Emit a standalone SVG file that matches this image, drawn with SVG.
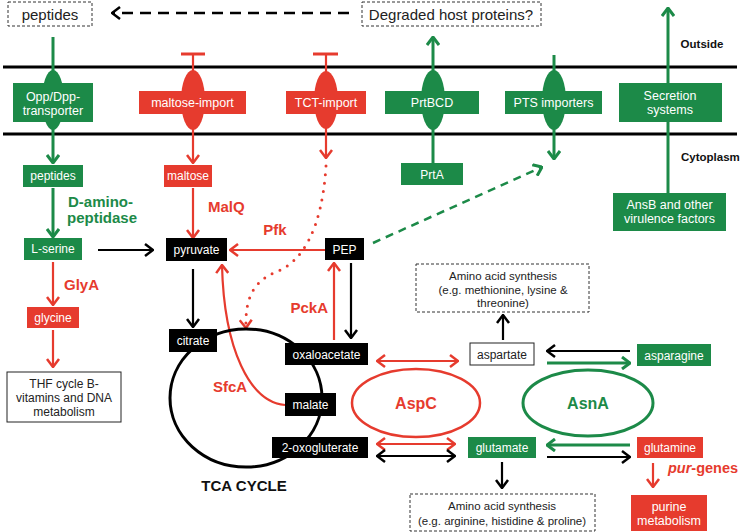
<svg xmlns="http://www.w3.org/2000/svg" width="741" height="532" viewBox="0 0 741 532">
<style>
text{font-family:"Liberation Sans",Arial,sans-serif}
.w{fill:#fff;font-size:12px;text-anchor:middle}
.wm{fill:#fff;font-size:12.5px;text-anchor:middle}
.k{fill:#222;font-size:12px;text-anchor:middle}
.ks{fill:#222;font-size:11.5px;text-anchor:middle}
.rl{fill:#e63b2e;font-size:15px;font-weight:bold}
.gl{fill:#1c8a48;font-size:15px;font-weight:bold}
.G{fill:#1c8a48}
.R{fill:#e63b2e}
.B{fill:#000}
.dash{fill:#fff;stroke:#333;stroke-width:1;stroke-dasharray:3 2}
.sg{stroke:#1c8a48;stroke-width:3;fill:none}
.sr{stroke:#e63b2e;stroke-width:2.2;fill:none}
.sk{stroke:#000;stroke-width:2.2;fill:none}
</style>
<defs>
<marker id="ar" viewBox="0 0 10 14" markerWidth="10" markerHeight="14" refX="9" refY="7" orient="auto-start-reverse" markerUnits="userSpaceOnUse"><path d="M1,1 L9,7 L1,13" fill="none" stroke="#e63b2e" stroke-width="2.5"/></marker>
<marker id="ag" viewBox="0 0 10 14" markerWidth="10" markerHeight="14" refX="9" refY="7" orient="auto-start-reverse" markerUnits="userSpaceOnUse"><path d="M1,1 L9,7 L1,13" fill="none" stroke="#1c8a48" stroke-width="3"/></marker>
<marker id="ak" viewBox="0 0 10 14" markerWidth="10" markerHeight="14" refX="9" refY="7" orient="auto-start-reverse" markerUnits="userSpaceOnUse"><path d="M1,1 L9,7 L1,13" fill="none" stroke="#000" stroke-width="2.5"/></marker>
</defs>
<rect width="741" height="532" fill="#fff"/>
<!-- membranes -->
<g id="membrane">
<line x1="3" y1="67" x2="737" y2="67" stroke="#000" stroke-width="3"/>
<line x1="3" y1="134" x2="737" y2="134" stroke="#000" stroke-width="3"/>
<text x="702" y="48" style="font-size:11.5px;font-weight:bold;text-anchor:middle" fill="#111">Outside</text>
<text x="681" y="161" style="font-size:11.5px;font-weight:bold" fill="#111">Cytoplasm</text>
</g>
<!-- connectors -->
<g id="connectors">
<line x1="349" y1="13" x2="112" y2="13" stroke="#000" stroke-width="2.5" stroke-dasharray="11 7" marker-end="url(#ak)"/>
<line class="sg" x1="53" y1="37" x2="53" y2="163" marker-end="url(#ag)"/>
<line class="sr" x1="193" y1="54" x2="193" y2="163" marker-end="url(#ar)"/>
<line x1="181" y1="54" x2="205" y2="54" stroke="#e63b2e" stroke-width="3"/>
<line class="sr" x1="326" y1="54" x2="326" y2="158" marker-end="url(#ar)"/>
<line x1="313" y1="54" x2="338" y2="54" stroke="#e63b2e" stroke-width="3"/>
<line class="sg" x1="433" y1="163" x2="433" y2="37" marker-end="url(#ag)"/>
<line class="sg" x1="554" y1="55" x2="554" y2="159" marker-end="url(#ag)"/>
<line class="sg" x1="668" y1="193" x2="668" y2="8" marker-end="url(#ag)"/>
<path d="M326,166 C 322,230 302,262 276,272 C 252,282 245,300 246,328" fill="none" stroke="#e63b2e" stroke-width="3" stroke-linecap="round" stroke-dasharray="0 8.5" marker-end="url(#ar)"/>
<line x1="373" y1="243" x2="542" y2="167" stroke="#1c8a48" stroke-width="2.5" stroke-dasharray="8 6" marker-end="url(#ag)"/>
<line class="sg" x1="53" y1="188" x2="53" y2="237" marker-end="url(#ag)"/>
<line class="sr" x1="193" y1="188" x2="193" y2="238" marker-end="url(#ar)"/>
<line class="sk" x1="98" y1="250" x2="153" y2="250" marker-end="url(#ak)"/>
<line class="sr" x1="53" y1="262" x2="53" y2="305" marker-end="url(#ar)"/>
<line class="sr" x1="53" y1="330" x2="53" y2="367" marker-end="url(#ar)"/>
<line class="sr" x1="325" y1="250" x2="230" y2="250" marker-end="url(#ar)"/>
<line class="sk" x1="193" y1="269" x2="193" y2="327" marker-end="url(#ak)"/>
<line class="sr" x1="334" y1="340" x2="334" y2="263" marker-end="url(#ar)"/>
<line class="sk" x1="351" y1="263" x2="351" y2="338" marker-end="url(#ak)"/>
<path class="sr" d="M285,405 C 250,402 224,350 222,265" marker-end="url(#ar)"/>
<line class="sr" x1="377" y1="361" x2="458" y2="361" marker-start="url(#ar)" marker-end="url(#ar)"/>
<line class="sr" x1="377" y1="444" x2="455" y2="444" marker-start="url(#ar)" marker-end="url(#ar)"/>
<line class="sk" x1="377" y1="456" x2="455" y2="456" marker-start="url(#ak)" marker-end="url(#ak)"/>
<line class="sk" x1="503" y1="340" x2="503" y2="315" marker-end="url(#ak)"/>
<line class="sk" x1="630" y1="351" x2="547" y2="351" marker-end="url(#ak)"/>
<line class="sg" x1="547" y1="363" x2="630" y2="363" marker-end="url(#ag)"/>
<line class="sg" x1="630" y1="445" x2="547" y2="445" marker-end="url(#ag)"/>
<line class="sk" x1="547" y1="457" x2="630" y2="457" marker-end="url(#ak)"/>
<line class="sk" x1="502" y1="462" x2="502" y2="488" marker-end="url(#ak)"/>
<line class="sr" x1="653" y1="463" x2="653" y2="487" marker-end="url(#ar)"/>
</g>
<!-- TCA cycle -->
<g id="tca">
<ellipse cx="246" cy="398" rx="76" ry="69" fill="none" stroke="#000" stroke-width="3"/>
<text x="244" y="491" style="font-size:15px;font-weight:bold;text-anchor:middle" fill="#111">TCA CYCLE</text>
</g>
<g id="aspc"><ellipse cx="416" cy="403" rx="64" ry="34" fill="none" stroke="#e63b2e" stroke-width="2.5"/><text class="rl" x="416" y="409" style="font-size:16px;text-anchor:middle">AspC</text></g>
<g id="asna"><ellipse cx="588" cy="403" rx="65" ry="33" fill="none" stroke="#1c8a48" stroke-width="3"/><text class="gl" x="588" y="409" style="font-size:16px;text-anchor:middle">AsnA</text></g>
<!-- top boxes -->
<g id="peptides-out"><rect class="dash" x="8" y="2" width="84" height="24"/><text x="50" y="19.5" style="font-size:15px;text-anchor:middle" fill="#222">peptides</text></g>
<g id="degraded"><rect class="dash" x="362" y="2" width="179" height="24"/><text x="451" y="19.5" style="font-size:15px;text-anchor:middle" fill="#222">Degraded host proteins?</text></g>
<!-- membrane transporters -->
<g id="opp"><ellipse class="G" cx="53" cy="100" rx="11" ry="30"/><rect class="G" x="13" y="83" width="80" height="39"/><text class="wm" x="53" y="101">Opp/Dpp-</text><text class="wm" x="53" y="115">transporter</text></g>
<g id="maltose-import"><ellipse class="R" cx="193" cy="100" rx="12" ry="30"/><rect class="R" x="139" y="91" width="107" height="23"/><text class="wm" x="192.5" y="107">maltose-import</text></g>
<g id="tct-import"><ellipse class="R" cx="326" cy="100" rx="12" ry="29"/><rect class="R" x="286" y="91" width="80" height="23"/><text class="wm" x="326" y="107">TCT-import</text></g>
<g id="prtbcd"><ellipse class="G" cx="433" cy="100" rx="12" ry="30"/><rect class="G" x="385" y="91" width="94" height="23"/><text class="wm" x="432" y="107">PrtBCD</text></g>
<g id="pts"><ellipse class="G" cx="554" cy="100" rx="12" ry="30"/><rect class="G" x="505" y="91" width="97" height="23"/><text class="wm" x="553.5" y="107">PTS importers</text></g>
<g id="secretion"><rect class="G" x="619" y="83" width="103" height="39"/><text class="wm" x="670" y="100">Secretion</text><text class="wm" x="670" y="114">systems</text></g>
<!-- cytoplasm nodes -->
<g id="peptides-in"><rect class="G" x="23" y="165" width="60" height="22"/><text class="w" x="53" y="180">peptides</text></g>
<g id="maltose"><rect class="R" x="164" y="165" width="48" height="22"/><text class="w" x="188" y="180">maltose</text></g>
<g id="prta"><rect class="G" x="401" y="163" width="62" height="22"/><text class="w" x="432" y="178.5">PrtA</text></g>
<g id="ansb"><rect class="G" x="613" y="193" width="113" height="38"/><text class="wm" x="669.5" y="209">AnsB and other</text><text class="wm" x="669.5" y="223">virulence factors</text></g>
<g id="lserine"><rect class="G" x="24" y="238" width="58" height="22"/><text class="w" x="53" y="253">L-serine</text></g>
<g id="glycine"><rect class="R" x="27" y="307" width="52" height="21"/><text class="w" x="53" y="322">glycine</text></g>
<g id="thf"><rect x="7" y="372" width="114" height="50" fill="#fff" stroke="#222" stroke-width="1"/><text class="k" x="64" y="388">THF cycle B-</text><text class="k" x="64" y="402">vitamins and DNA</text><text class="k" x="64" y="415.5">metabolism</text></g>
<g id="pyruvate"><rect class="B" x="166" y="238" width="61" height="23"/><text class="w" x="196.5" y="254">pyruvate</text></g>
<g id="pep"><rect class="B" x="325" y="238" width="39" height="22"/><text class="w" x="344.5" y="253.5">PEP</text></g>
<g id="citrate"><rect class="B" x="169" y="329" width="48" height="23"/><text class="w" x="193" y="345">citrate</text></g>
<g id="oxaloacetate"><rect class="B" x="285" y="343" width="83" height="22"/><text class="w" x="326.5" y="358.5">oxaloacetate</text></g>
<g id="malate"><rect class="B" x="285" y="393" width="51" height="23"/><text class="w" x="310.5" y="409">malate</text></g>
<g id="oxoglutarate"><rect class="B" x="272" y="437" width="96" height="21"/><text class="w" x="320" y="452">2-oxogluterate</text></g>
<g id="aspartate"><rect x="470" y="343" width="64" height="22" fill="#fff" stroke="#222" stroke-width="1"/><text class="k" x="502" y="358.5">aspartate</text></g>
<g id="asparagine"><rect class="G" x="637" y="344" width="74" height="22"/><text class="w" x="674" y="359.5">asparagine</text></g>
<g id="glutamate"><rect class="G" x="468" y="437" width="68" height="21"/><text class="w" x="502" y="452">glutamate</text></g>
<g id="glutamine"><rect class="R" x="637" y="437" width="66" height="21"/><text class="w" x="670" y="452">glutamine</text></g>
<g id="purine"><rect class="R" x="631" y="495" width="76" height="36"/><text class="wm" x="669" y="511">purine</text><text class="wm" x="669" y="525">metabolism</text></g>
<g id="aa1"><rect class="dash" x="416" y="264" width="173" height="48"/><text class="ks" x="503" y="280">Amino acid synthesis</text><text class="ks" x="503" y="294">(e.g. methionine, lysine &amp;</text><text class="ks" x="503" y="306.5">threonine)</text></g>
<g id="aa2"><rect class="dash" x="410" y="494" width="185" height="37"/><text class="ks" x="502" y="510">Amino acid synthesis</text><text class="ks" x="502" y="525">(e.g. arginine, histidine &amp; proline)</text></g>
<!-- enzyme labels -->
<g id="labels">
<text class="rl" x="208" y="212">MalQ</text>
<text class="gl" x="68" y="207">D-amino-</text>
<text class="gl" x="67" y="223">peptidase</text>
<text class="rl" x="64" y="290">GlyA</text>
<text class="rl" x="275" y="235" style="text-anchor:middle">Pfk</text>
<text class="rl" x="328" y="313" style="text-anchor:end">PckA</text>
<text class="rl" x="230" y="392" style="text-anchor:middle">SfcA</text>
<text class="rl" x="668" y="473" style="font-size:14.5px"><tspan font-style="italic">pur</tspan>-genes</text>
</g>
</svg>
